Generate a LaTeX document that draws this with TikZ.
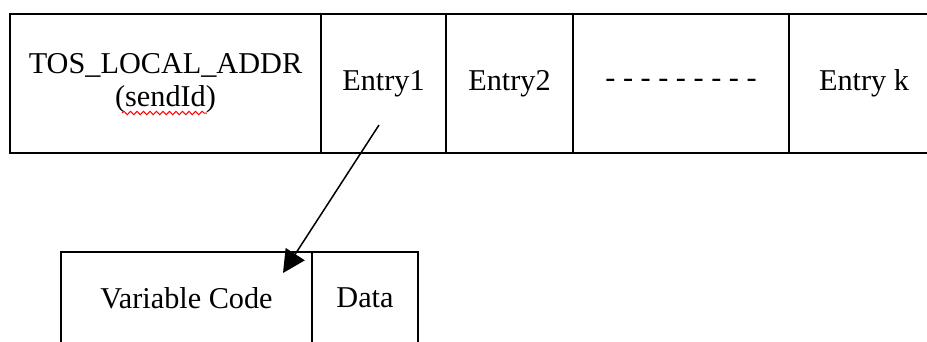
\documentclass[tikz,border=0pt]{standalone}
\usepackage{fontspec}
\setmainfont{Liberation Serif}
\usetikzlibrary{positioning, calc, arrows.meta, decorations.pathmorphing}
\tikzset{
cell/.style={draw, line width=0.8pt, inner sep=0pt, outer sep=0pt, align=center,
  minimum height=55.6pt, font=\fontsize{12.1}{13.2}\selectfont},
subcell/.style={cell, minimum height=36.8pt},
pointer/.style={line width=0.6pt, -{Triangle[length=9pt,width=9pt]}},
squiggle/.style={red, line width=0.4pt, decorate,
  decoration={snake, amplitude=0.7pt, segment length=2.6pt}}
}

\begin{document}
\begin{tikzpicture}[x=0.4pt, y=-0.4pt]
\useasboundingbox (0,0) rectangle (927,341);
\clip (0,0) rectangle (927,341);
% address table row
\node[cell, anchor=north west, minimum width=124.4pt] (addr) at (10,14)
  {TOS\_LOCAL\_ADDR\\(sendId)};
\node[cell, right=0pt of addr, minimum width=50pt] (e1) {Entry1};
\node[cell, right=0pt of e1, minimum width=50.8pt] (e2) {Entry2};
\node[cell, right=0pt of e2, minimum width=86.4pt] (dots) {- - - - - - - - -};
\node[cell, right=0pt of dots, minimum width=60pt] (ek) {Entry k};
\draw[squiggle] (122,113) -- (207,113);
% entry layout
\node[subcell, anchor=north west, minimum width=100.4pt] (code) at (61,252) {Variable Code};
\node[subcell, right=0pt of code, minimum width=42.4pt] (data) {Data};
\coordinate (from) at ($(e1.south)+(-4.5,-28)$);
\coordinate (to) at ($(code.north east)+(-29,21)$);
\draw[pointer] (from) -- (to);
\end{tikzpicture}
\end{document}
